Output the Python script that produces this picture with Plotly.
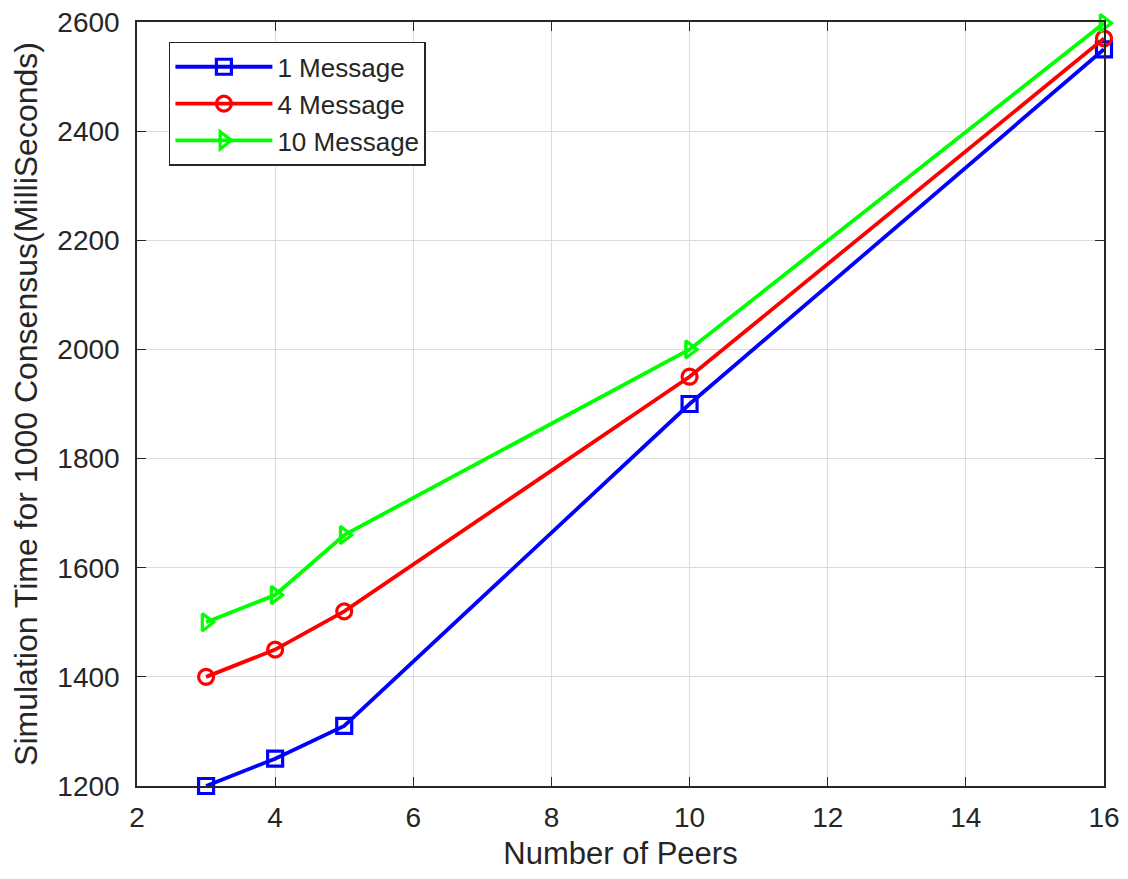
import plotly.graph_objects as go

peers = [3, 4, 5, 10, 16]
msg1 = [1200, 1250, 1310, 1900, 2550]
msg4 = [1400, 1450, 1520, 1950, 2570]
msg10 = [1500, 1550, 1660, 2000, 2598]
names = ["1 Message", "4 Message", "10 Message"]
x_ticks = [2, 4, 6, 8, 10, 12, 14, 16]
y_ticks = [1200, 1400, 1600, 1800, 2000, 2200, 2400, 2600]

FONT = "Liberation Sans, Arial"
TXT = "#262626"

fig = go.Figure()
styles = [("#0000ff", "square-open"), ("#ff0000", "circle-open"), ("#00ff00", "triangle-right-open")]
for name, ys, (c, sym) in zip(names, [msg1, msg4, msg10], styles):
    fig.add_trace(go.Scatter(
        x=peers, y=ys, name=name, mode="lines+markers",
        line=dict(color=c, width=3.8),
        marker=dict(symbol=sym, size=15, color=c, line=dict(width=3.2, color=c)),
        cliponaxis=False,
    ))

axis_common = dict(
    showgrid=True, gridcolor="#dcdcdc", gridwidth=1,
    showline=True, linecolor=TXT, linewidth=1.5, mirror="ticks",
    ticks="inside", ticklen=9, tickcolor=TXT,
    tickfont=dict(family=FONT, size=28, color=TXT),
    zeroline=False, automargin=False, ticklabeloverflow="allow",
)
fig.update_xaxes(range=[2, 16], tickvals=x_ticks, ticklabelstandoff=6,
                 title=dict(text="Number of Peers", font=dict(family=FONT, size=31, color=TXT), standoff=10),
                 **axis_common)
fig.update_yaxes(range=[1200, 2600], tickvals=y_ticks, ticklabelstandoff=10,
                 title=dict(text="Simulation Time for 1000 Consensus(MilliSeconds)", font=dict(family=FONT, size=32, color=TXT), standoff=11),
                 **axis_common)

fig.update_layout(
    width=1112, height=863,
    margin=dict(l=129, r=16, t=14, b=85),
    plot_bgcolor="white", paper_bgcolor="white",
    legend=dict(x=0.033, y=0.974, xanchor="left", yanchor="top",
                bordercolor=TXT, borderwidth=1.5, bgcolor="white",
                font=dict(family=FONT, size=26, color=TXT),
                itemwidth=97),
)
fig.write_html("out.html")
